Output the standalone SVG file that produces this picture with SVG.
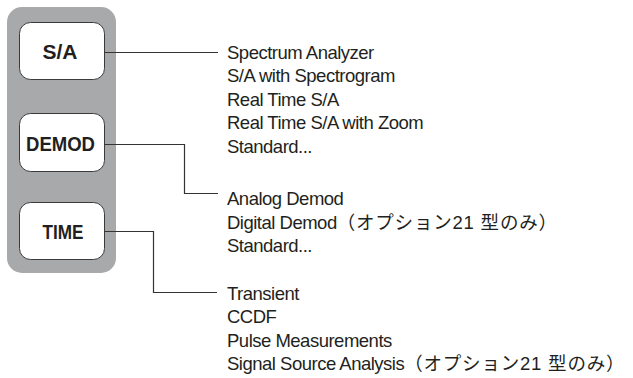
<svg xmlns="http://www.w3.org/2000/svg" width="633" height="378" viewBox="0 0 633 378">
<style>
.panel{fill:#a8a9ab;}
.btn{fill:#fff;stroke:#3a3a3a;stroke-width:1;}
.bl{font-family:"Liberation Sans","Noto Sans CJK JP",sans-serif;font-weight:bold;font-size:21px;fill:#231f20;text-anchor:middle;}
.t{font-family:"Liberation Sans","Noto Sans CJK JP",sans-serif;font-size:18.5px;letter-spacing:-0.5px;fill:#231f20;}
.j{font-family:"Liberation Sans","Noto Sans CJK JP",sans-serif;font-size:18.5px;letter-spacing:0.8px;}
.c{fill:none;stroke:#333;stroke-width:1.2;}
</style>
<rect width="633" height="378" fill="#fff"/>
<rect class="panel" x="7" y="7" width="109" height="266" rx="15"/>
<g id="node-sa">
<rect class="btn" x="19.5" y="22.5" width="85" height="57" rx="11"/>
<text class="bl" x="60" y="59" textLength="35" lengthAdjust="spacingAndGlyphs">S/A</text>
</g>
<g id="node-demod">
<rect class="btn" x="19.5" y="113.5" width="85" height="58" rx="11"/>
<text class="bl" x="60.5" y="151" textLength="69" lengthAdjust="spacingAndGlyphs">DEMOD</text>
</g>
<g id="node-time">
<rect class="btn" x="19.5" y="202.5" width="85" height="57" rx="11"/>
<text class="bl" x="63" y="239" textLength="41" lengthAdjust="spacingAndGlyphs">TIME</text>
</g>
<g id="connectors">
<polyline class="c" points="104.5,52.5 218,52.5"/>
<polyline class="c" points="104.5,144.5 184.5,144.5 184.5,193.5 218,193.5"/>
<polyline class="c" points="104.5,231.5 153.5,231.5 153.5,292.5 217,292.5"/>
</g>
<g id="list-sa">
<text class="t" x="227" y="58.5">Spectrum Analyzer</text>
<text class="t" x="227" y="82">S/A with Spectrogram</text>
<text class="t" x="227" y="105.5">Real Time S/A</text>
<text class="t" x="227" y="129">Real Time S/A with Zoom</text>
<text class="t" x="227" y="152.5">Standard...</text>
</g>
<g id="list-demod">
<text class="t" x="227" y="205">Analog Demod</text>
<text class="t" x="227" y="228.5">Digital Demod<tspan class="j">（オプション21 型のみ）</tspan></text>
<text class="t" x="227" y="252">Standard...</text>
</g>
<g id="list-time">
<text class="t" x="227" y="299.5">Transient</text>
<text class="t" x="227" y="323">CCDF</text>
<text class="t" x="227" y="346.5">Pulse Measurements</text>
<text class="t" x="227" y="370">Signal Source Analysis<tspan class="j">（オプション21 型のみ）</tspan></text>
</g>
</svg>
